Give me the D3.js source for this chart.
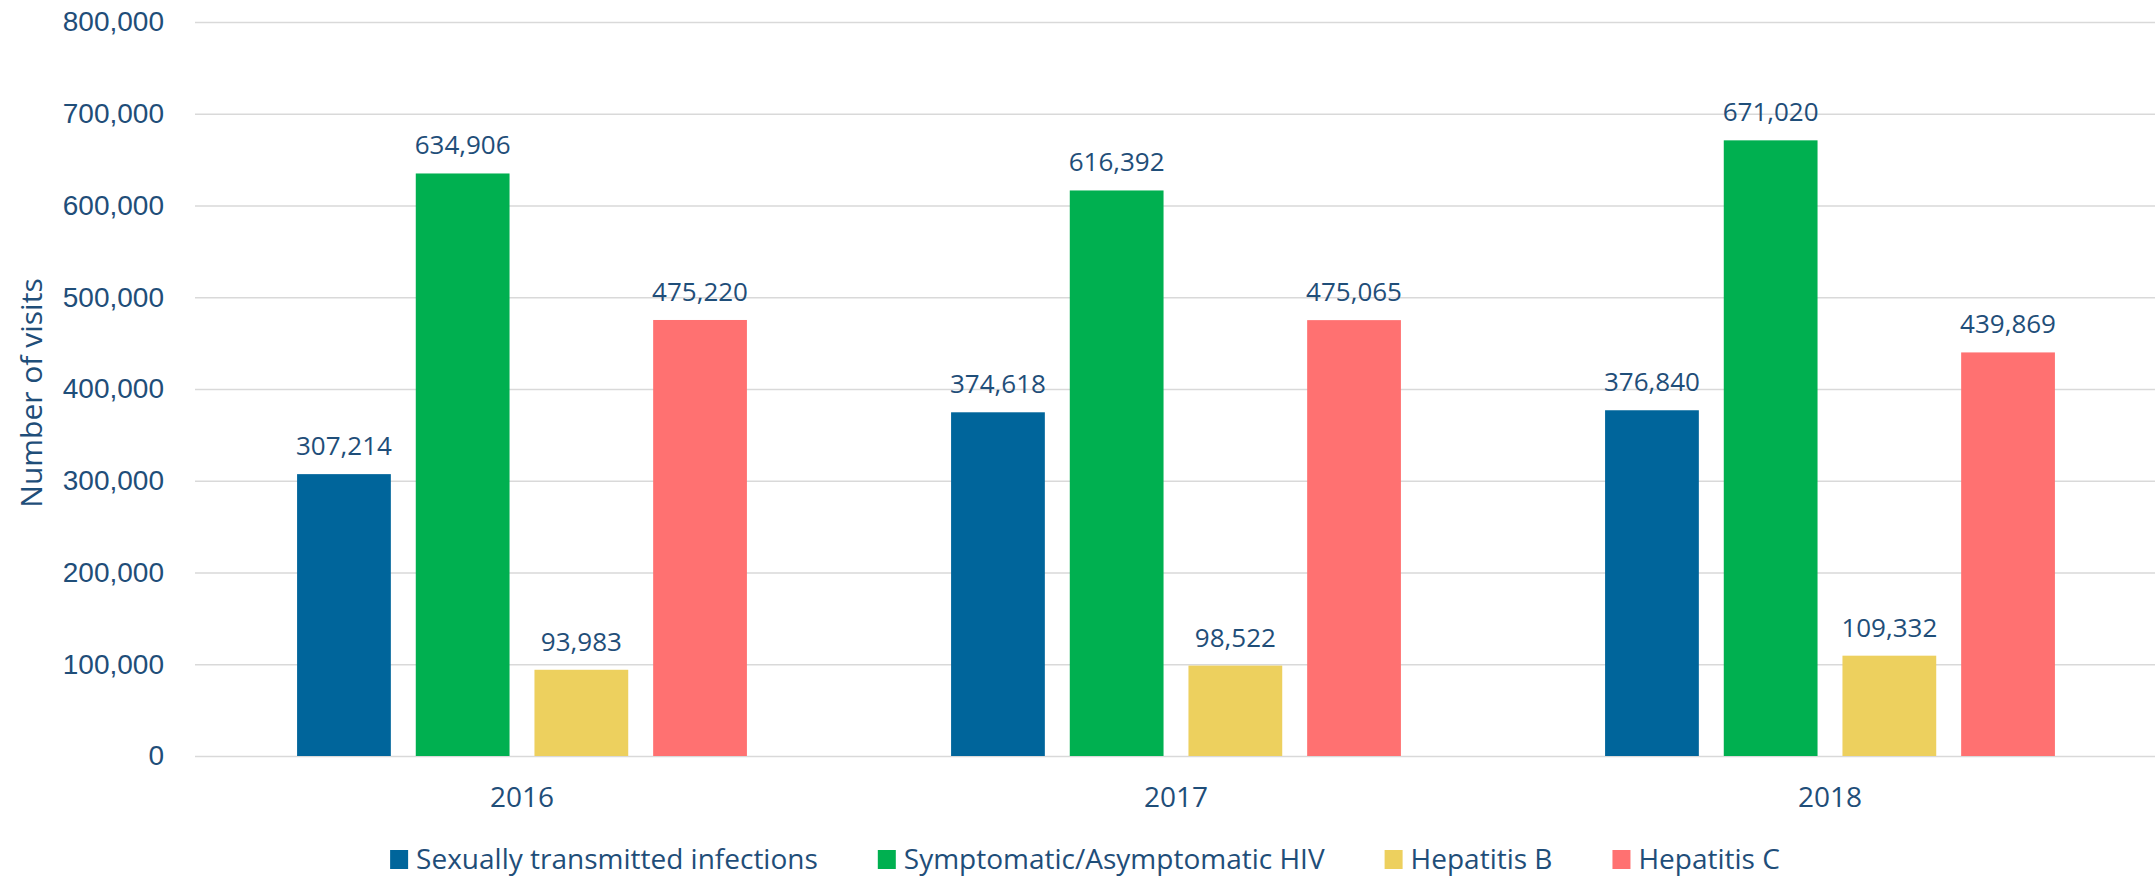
<!DOCTYPE html>
<html>
<head>
<meta charset="utf-8">
<script src="https://cdn.jsdelivr.net/npm/d3@7"></script>
<style>
  html, body { margin: 0; padding: 0; background: #fff; }
  svg { display: block; font-family: "Open Sans", "Noto Sans", sans-serif; }
</style>
</head>
<body>
<div id="chart"></div>
<script>
// chart data
const years = ["2016", "2017", "2018"];
const seriesNames = ["Sexually transmitted infections", "Symptomatic/Asymptomatic HIV", "Hepatitis B", "Hepatitis C"];
const stiValues = [307214, 374618, 376840];
const hivValues = [634906, 616392, 671020];
const hepBValues = [93983, 98522, 109332];
const hepCValues = [475220, 475065, 439869];
const yTicks = [0, 100000, 200000, 300000, 400000, 500000, 600000, 700000, 800000];

const seriesValues = [stiValues, hivValues, hepBValues, hepCValues];
const colors = ["#00659B", "#00B050", "#EDD05E", "#FF7171"];
const textColor = "#1F4E79";

const width = 2155, height = 878;
const margin = { top: 22, right: -2, bottom: 122, left: 195 };

const svg = d3.select("#chart").append("svg")
  .attr("width", width)
  .attr("height", height);

// scales
const x0 = d3.scaleBand()
  .domain(years)
  .range([margin.left, width - margin.right])
  .padding(0);

const x1 = d3.scaleBand()
  .domain(seriesNames)
  .range([0, x0.bandwidth()])
  .paddingInner(0.21)
  .paddingOuter(0.86);

const y = d3.scaleLinear()
  .domain([0, 800000])
  .range([height - margin.bottom, margin.top]);

const fmt = d3.format(",");

// gridlines + y tick labels
const yAxis = svg.append("g")
  .attr("transform", `translate(${margin.left},0)`)
  .call(d3.axisLeft(y).tickValues(yTicks).tickSize(-(width - margin.left - margin.right)).tickFormat(fmt).tickPadding(31));
yAxis.select(".domain").remove();
yAxis.selectAll(".tick line").attr("stroke", "#D9D9D9").attr("stroke-width", 1.5);
yAxis.selectAll(".tick text")
  .attr("fill", textColor)
  .style("font-size", "28px");

// y title
svg.append("text")
  .attr("transform", `translate(42,${(y(0) + y(800000)) / 2 + 4}) rotate(-90)`)
  .attr("text-anchor", "middle")
  .attr("fill", textColor)
  .style("font-size", "30px")
  .text("Number of visits");

// bars
const groups = svg.append("g").selectAll("g")
  .data(years)
  .join("g")
  .attr("transform", d => `translate(${x0(d)},0)`);

groups.selectAll("rect")
  .data((yr, i) => seriesNames.map((s, k) => ({ s, k, v: seriesValues[k][i] })))
  .join("rect")
  .attr("x", d => x1(d.s))
  .attr("width", x1.bandwidth())
  .attr("y", d => y(d.v))
  .attr("height", d => y(0) - y(d.v))
  .attr("fill", d => colors[d.k]);

groups.selectAll("text.val")
  .data((yr, i) => seriesNames.map((s, k) => ({ s, k, v: seriesValues[k][i] })))
  .join("text")
  .attr("class", "val")
  .attr("x", d => x1(d.s) + x1.bandwidth() / 2)
  .attr("y", d => y(d.v) - 19)
  .attr("text-anchor", "middle")
  .attr("fill", textColor)
  .style("font-size", "26px")
  .text(d => fmt(d.v));

// x labels
svg.append("g").selectAll("text")
  .data(years)
  .join("text")
  .attr("x", d => x0(d) + x0.bandwidth() / 2)
  .attr("y", 807)
  .attr("text-anchor", "middle")
  .attr("fill", textColor)
  .style("font-size", "28px")
  .text(d => d);

// legend
const legend = svg.append("g");
const items = legend.selectAll("g")
  .data(seriesNames)
  .join("g");
items.append("rect")
  .attr("width", 18)
  .attr("height", 19)
  .attr("y", 850)
  .attr("fill", (d, i) => colors[i]);
items.append("text")
  .attr("x", 26)
  .attr("y", 869)
  .attr("fill", textColor)
  .style("font-size", "28px")
  .text(d => d);

let cx = 0;
const offsets = [];
items.each(function () {
  offsets.push(cx);
  cx += 26 + this.querySelector("text").getComputedTextLength() + 60;
});
const totalW = cx - 60;
const startX = 1085 - totalW / 2;
items.attr("transform", (d, i) => `translate(${startX + offsets[i]},0)`);
</script>
</body>
</html>
